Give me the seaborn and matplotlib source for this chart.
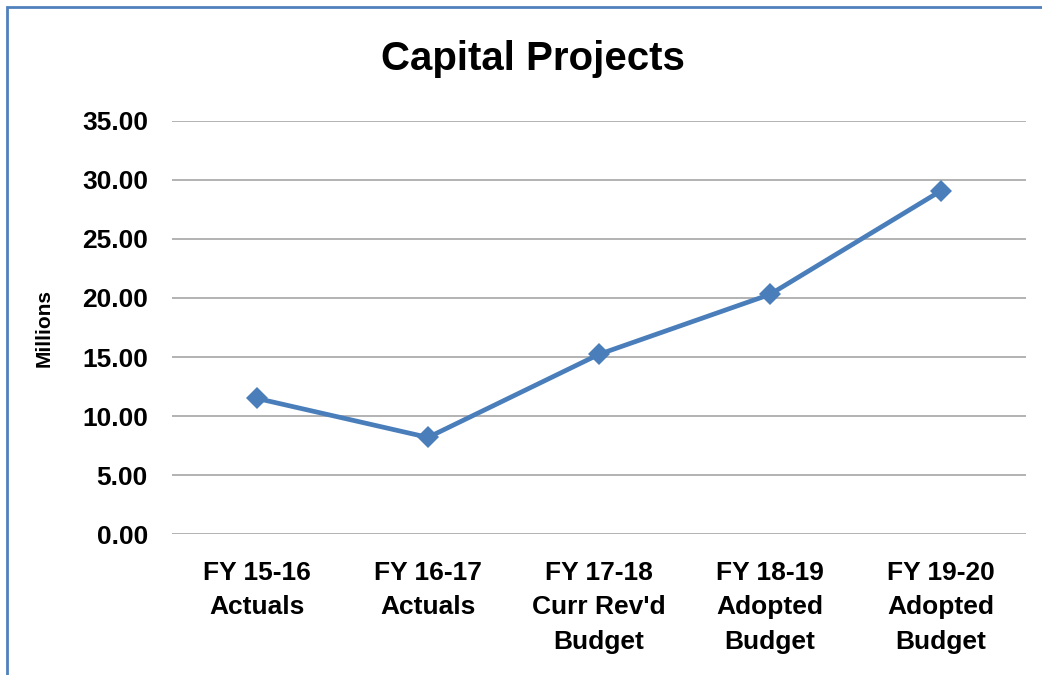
import matplotlib
matplotlib.use("Agg")
import matplotlib.pyplot as plt
import seaborn as sns
import pandas as pd
from matplotlib.patches import Rectangle

categories = ["FY 15-16\nActuals", "FY 16-17\nActuals", "FY 17-18\nCurr Rev'd\nBudget",
              "FY 18-19\nAdopted\nBudget", "FY 19-20\nAdopted\nBudget"]
values = [11.5, 8.2, 15.23, 20.3, 29.07]
yticks = [0, 5, 10, 15, 20, 25, 30, 35]

sns.set_theme(style="white")
plt.rcParams['font.family'] = ['Liberation Sans', 'DejaVu Sans']
plt.rcParams['font.weight'] = 'bold'
plt.rcParams['text.color'] = 'black'
plt.rcParams['xtick.color'] = 'black'
plt.rcParams['ytick.color'] = 'black'
plt.rcParams['axes.labelcolor'] = 'black'

df = pd.DataFrame({"cat": categories, "val": values})

fig = plt.figure(figsize=(10.42, 6.75), dpi=100)
ax = fig.add_axes([0.1646, 0.2084, 0.8205, 0.6128])

color = "#4A7EBB"
sns.lineplot(data=df, x="cat", y="val", ax=ax, color=color, linewidth=3.4,
             marker="D", markersize=11.5, markeredgewidth=0, sort=False)

ax.set_xlim(-0.5, len(categories) - 0.5)
ax.set_ylim(0, 35)
ax.set_yticks(yticks)
ax.set_yticklabels([f"{t:.2f}" for t in yticks], fontsize=19, fontweight='bold')
ax.set_xticks(range(len(categories)))
ax.set_xticklabels(categories, fontsize=19, fontweight='bold', linespacing=1.55, va='top')
ax.tick_params(axis='both', length=0)
ax.tick_params(axis='y', pad=17)
ax.tick_params(axis='x', pad=19)
ax.yaxis.grid(True, color="#A6A6A6", linewidth=1.2)
ax.set_axisbelow(True)
for s in ax.spines.values():
    s.set_visible(False)
ax.set_xlabel("")
ax.set_ylabel("Millions", fontsize=15, fontweight='bold', labelpad=20)

fig.text(0.511, 0.913, "Capital Projects", ha='center', va='center', fontsize=29, fontweight='bold')

fig.patches.append(Rectangle((7 / 1042, -0.1), 1.2, 1 - 7 / 675 + 0.1, transform=fig.transFigure,
                             fill=False, edgecolor="#4F81BD", linewidth=2, figure=fig))

fig.savefig("out.png", dpi=100)
